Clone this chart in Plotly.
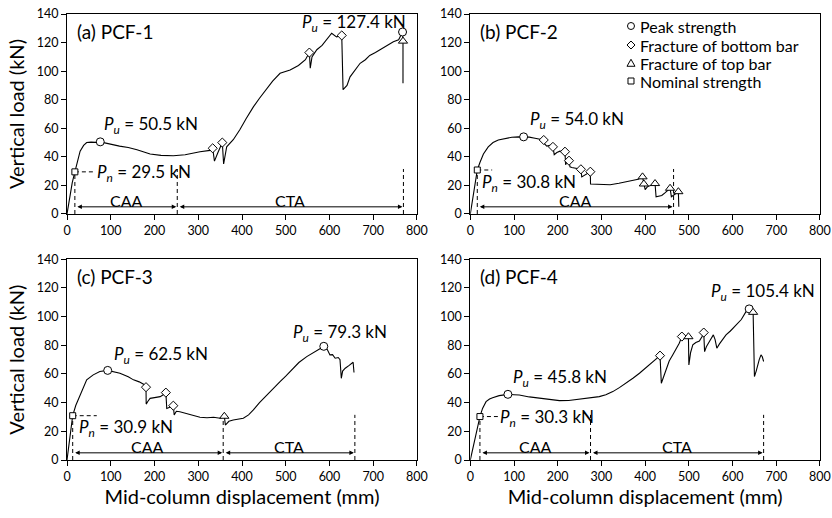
import plotly.graph_objects as go

FONT = "Lato"

# ---------------- data ----------------
# Panel (a) PCF-1
a_x = [0, 4, 8, 12, 18, 24, 30, 38, 45, 55, 65, 76, 95, 120, 140, 160, 190, 215, 243, 270, 304, 327, 333,
       337, 345, 355, 358, 365, 380, 395, 410, 426, 440, 456, 470, 487, 500, 510, 529, 545, 554, 556, 560,
       571, 583, 593, 605, 616, 628, 631, 640, 647, 660, 670, 682, 692, 705, 715, 730, 746, 758, 767, 768, 768]
a_y = [0, 8, 15, 22, 29.5, 38, 44, 48, 50, 50.3, 50.1, 50.5, 49, 47.5, 46.5, 45, 42, 41, 40.8, 41.5, 43.6, 44.5, 46,
       37, 43, 50, 35, 47, 52, 59, 67, 75, 81, 87, 93, 98.5, 100, 100.8, 104, 108, 113, 102, 110,
       115, 118, 122, 126.5, 124, 125, 87, 90, 96, 101, 105.5, 108, 111, 113, 115, 118, 120.6, 122, 127.4, 121, 91.5]
a_peak = ([76, 767], [50.5, 127.4])
a_bottom = ([333, 355, 554, 628], [46, 50, 113, 125])
a_top = ([768], [121])
a_nominal = ([18], [29.5])
a_bounds = [18, 252, 769]
a_stages = ["CAA", "CTA"]

# Panel (b) PCF-2
b_x = [0, 5, 10, 16, 22, 30, 41, 52, 64, 80, 95, 110, 122, 135, 148, 160, 168, 170, 175, 182, 189, 192, 198, 205,
       212, 216.6, 218, 222, 225.8, 228, 232, 240, 248, 253, 255, 262, 270, 274.6, 275, 285, 300, 320, 340, 361,
       375, 384, 394, 397, 400, 405, 412, 418, 422.6, 425, 432, 438, 446, 453, 457, 460, 468, 476, 477]
b_y = [0, 9, 19, 30.8, 36, 42, 47, 50, 51.8, 53, 53.7, 54, 54, 53.8, 53, 52.5, 51.8, 49, 47.5, 48, 47, 41.5, 43, 44,
       44, 43.6, 34.5, 37, 37.3, 33, 32.5, 32, 31.5, 31.3, 26, 27.5, 29, 29.6, 21, 21, 20.5, 20.5, 21.5, 22.6,
       23.5, 24.3, 26, 20.5, 17, 19, 20, 21, 21.3, 12, 12.5, 13, 15, 17, 18, 12.1, 14, 15.6, 5]
b_peak = ([122], [54.0])
b_bottom = ([168, 189, 216.6, 225.8, 253, 274.6], [51.8, 47, 43.6, 37.3, 31.3, 29.6])
b_top = ([394, 397, 422.6, 457, 476], [26, 21, 21.3, 18, 15.6])
b_nominal = ([16], [30.8])
b_bounds = [16, 465]
b_stages = ["CAA"]

# Panel (c) PCF-3
c_x = [0, 4, 8, 13, 20, 30, 45, 60, 75, 93, 110, 121, 140, 152, 165, 175, 180.6, 181, 185, 190, 200, 213, 220,
       226, 228, 235, 243, 245, 250, 258, 280, 304, 320, 335, 350, 359.6, 362, 370, 380, 392, 403, 415, 426,
       440, 457, 470, 487, 500, 517, 530, 548, 560, 571, 580, 587, 595, 601, 607, 613, 620, 624, 627, 630,
       636, 645, 654, 656]
c_y = [0, 10, 20, 30.9, 38, 45.4, 55.9, 59.4, 61.7, 62.5, 61.5, 60.5, 58, 55.9, 54.5, 52.9, 50.8, 39, 41, 43,
       43.5, 44.2, 45.5, 47, 36, 37, 37.9, 31.5, 34, 33.7, 32, 29.8, 29.5, 29.8, 29.1, 30.5, 24.4, 27, 27.9,
       28.5, 29.1, 31.5, 34.9, 40, 45.4, 50, 54.7, 58.5, 64, 68, 72.1, 74.5, 76.8, 78, 79.3, 77, 73.3, 73.5,
       71, 71.5, 70, 57, 62, 64, 66, 68.2, 61]
c_peak = ([93, 587], [62.5, 79.3])
c_bottom = ([180.6, 226, 243], [50.8, 47, 37.9])
c_top = ([359.6], [30.5])
c_nominal = ([13], [30.9])
c_bounds = [13, 357, 658]
c_stages = ["CAA", "CTA"]

# Panel (d) PCF-4
d_x = [0, 5, 10, 15, 22, 28, 36, 44, 51, 66, 75, 86, 100, 112, 135, 158, 180, 204, 225, 249, 270, 295, 310,
       326, 341, 356, 372, 387, 402, 417, 425, 434, 437, 442, 448, 455, 463, 470, 478, 484, 490, 499, 500,
       504, 509, 516, 524, 530, 534, 536, 540, 547, 552, 556, 560, 564, 570, 577, 585, 595, 608, 620, 631,
       638, 647, 650, 654, 657, 661, 665, 668, 671]
d_y = [0, 7, 14, 21, 30.3, 36, 40.7, 42.5, 43.5, 44.9, 45.5, 45.8, 45.5, 45.3, 44, 43, 42.2, 41.4, 41.5, 42.4,
       43, 44.2, 45.5, 47.7, 50.5, 53.5, 57, 60.5, 64.5, 68.7, 70.5, 72.8, 53.5, 58, 64, 69, 73.3, 77, 81.5,
       86.1, 85, 86, 66.3, 75, 80.3, 82, 83, 86, 88.9, 75.6, 79, 82.6, 85, 87.3, 84, 78, 81, 84, 87.3, 90,
       94.3, 98, 103.6, 105.4, 103, 58.2, 62, 66.3, 70, 73.3, 72, 68.7]
d_peak = ([86, 638], [45.8, 105.4])
d_bottom = ([434, 484, 534], [72.8, 86.1, 88.9])
d_top = ([499, 647], [86, 103])
d_nominal = ([22], [30.3])
d_bounds = [22, 275, 671]
d_stages = ["CAA", "CTA"]

panel_titles = ["(a) PCF-1", "(b) PCF-2", "(c) PCF-3", "(d) PCF-4"]
pu_labels = [["50.5", "127.4"], ["54.0"], ["62.5", "79.3"], ["45.8", "105.4"]]
pn_labels = ["29.5", "30.8", "30.9", "30.3"]
legend_names = ["Peak strength", "Fracture of bottom bar", "Fracture of top bar", "Nominal strength"]

x_ticks = [0, 100, 200, 300, 400, 500, 600, 700, 800]
y_ticks = [0, 20, 40, 60, 80, 100, 120, 140]

# ---------------- layout helpers (positions / styles) ----------------
panels = [
    dict(x=a_x, y=a_y, peak=a_peak, bottom=a_bottom, top=a_top, nom=a_nominal, bounds=a_bounds, stages=a_stages,
         xa="x", ya="y", pu_pos=[(81, 62.3), (533, 133.5)], pn_pos=(64, 28.5), pn_end=62),
    dict(x=b_x, y=b_y, peak=b_peak, bottom=b_bottom, top=b_top, nom=b_nominal, bounds=b_bounds, stages=b_stages,
         xa="x2", ya="y2", pu_pos=[(132, 65.8)], pn_pos=(22, 21.5), pn_end=50),
    dict(x=c_x, y=c_y, peak=c_peak, bottom=c_bottom, top=c_top, nom=c_nominal, bounds=c_bounds, stages=c_stages,
         xa="x3", ya="y3", pu_pos=[(102, 73.3), (513, 88.5)], pn_pos=(22, 22), pn_end=68),
    dict(x=d_x, y=d_y, peak=d_peak, bottom=d_bottom, top=d_top, nom=d_nominal, bounds=d_bounds, stages=d_stages,
         xa="x4", ya="y4", pu_pos=[(93, 57), (545, 117)], pn_pos=(63, 29.1), pn_end=63),
]

fig = go.Figure()
annotations = []
shapes = []
GUIDE_TOP = 31.5
ARROW_Y = 5
black = "black"

def mk(style):
    sym, size = style
    return dict(symbol=sym, size=size, color="white", line=dict(color=black, width=1))

marker_styles = {"peak": ("circle", 8), "bottom": ("diamond", 7), "top": ("triangle-up", 8), "nom": ("square", 6)}

for i, p in enumerate(panels):
    xa, ya = p["xa"], p["ya"]
    fig.add_trace(go.Scatter(x=p["x"], y=p["y"], mode="lines", line=dict(color=black, width=1.1),
                             xaxis=xa, yaxis=ya, showlegend=False, hoverinfo="skip"))
    nx, ny = p["nom"]
    fig.add_trace(go.Scatter(x=[nx[0], p["pn_end"]], y=[ny[0], ny[0]], mode="lines",
                             line=dict(color=black, width=1, dash="4px,3px"), xaxis=xa, yaxis=ya,
                             showlegend=False, hoverinfo="skip"))
    for j, bx in enumerate(p["bounds"]):
        top = ny[0] if j == 0 else GUIDE_TOP
        fig.add_trace(go.Scatter(x=[bx, bx], y=[0, top], mode="lines",
                                 line=dict(color=black, width=1, dash="4px,3px"), xaxis=xa, yaxis=ya,
                                 showlegend=False, hoverinfo="skip"))
    for key in ["peak", "bottom", "top", "nom"]:
        mx, my = p[key]
        fig.add_trace(go.Scatter(x=mx, y=my, mode="markers", marker=mk(marker_styles[key]),
                                 xaxis=xa, yaxis=ya, showlegend=False, hoverinfo="skip"))
    for j, st in enumerate(p["stages"]):
        x0, x1 = p["bounds"][j], p["bounds"][j + 1]
        annotations.append(dict(x=x1, y=ARROW_Y, ax=x0, ay=ARROW_Y, xref=xa, yref=ya, axref=xa, ayref=ya,
                                text="", showarrow=True, arrowhead=2, startarrowhead=2, arrowside="end+start",
                                arrowsize=0.9, startarrowsize=0.9, arrowwidth=1, arrowcolor=black,
                                standoff=1, startstandoff=1))
        annotations.append(dict(x=(x0 + x1) / 2, y=9.5, xref=xa, yref=ya, text=st, showarrow=False,
                                font=dict(family=FONT, size=16, color=black), yanchor="middle"))
    annotations.append(dict(x=18, y=128, xref=xa, yref=ya, text=panel_titles[i], showarrow=False,
                            xanchor="left", yanchor="middle", font=dict(family=FONT, size=19, color=black)))
    for lab, (lx, ly) in zip(pu_labels[i], p["pu_pos"]):
        annotations.append(dict(x=lx, y=ly, xref=xa, yref=ya, text=f"<i>P</i><sub><i>u</i></sub> = {lab} kN",
                                showarrow=False, xanchor="left", yanchor="middle",
                                font=dict(family=FONT, size=17, color=black)))
    lx, ly = p["pn_pos"]
    annotations.append(dict(x=lx, y=ly, xref=xa, yref=ya, text=f"<i>P</i><sub><i>n</i></sub> = {pn_labels[i]} kN",
                            showarrow=False, xanchor="left", yanchor="middle",
                            font=dict(family=FONT, size=17, color=black)))

# legend (drawn inside panel b)
leg_x_mark = 367.6
leg_x_text = 383.0
leg_rows = [131.6, 118.3, 105.5, 93.1]
r = 3.5
leg_paths = [
    None,
    f"M 0 {r+0.5} L {r+0.5} 0 L 0 {-(r+0.5)} L {-(r+0.5)} 0 Z",
    f"M 0 {r+0.5} L {r+0.5} {-(r-0.5)} L {-(r+0.5)} {-(r-0.5)} Z",
    None,
]
for k, (name, ly) in enumerate(zip(legend_names, leg_rows)):
    common = dict(xref="x2", yref="y2", xsizemode="pixel", ysizemode="pixel", xanchor=leg_x_mark, yanchor=ly,
                  line=dict(color=black, width=1), fillcolor="white")
    if k == 0:
        shapes.append(dict(type="circle", x0=-r, x1=r, y0=-r, y1=r, **common))
    elif k == 3:
        shapes.append(dict(type="rect", x0=-3, x1=3, y0=-3, y1=3, **common))
    else:
        shapes.append(dict(type="path", path=leg_paths[k], **common))
    annotations.append(dict(x=leg_x_text, y=ly, xref="x2", yref="y2", text=name, showarrow=False,
                            xanchor="left", yanchor="middle", font=dict(family=FONT, size=16, color=black)))

axis_common = dict(showline=True, linecolor=black, linewidth=1, mirror=True, ticks="outside", ticklen=5,
                   tickcolor=black, tickwidth=1, showgrid=False, zeroline=False, automargin=False,
                   tickfont=dict(family=FONT, size=12.5, color=black))
xcommon = dict(range=[0, 800], tickvals=x_ticks, **axis_common)
ycommon = dict(range=[0, 140], tickvals=y_ticks, **axis_common)
xtitle = dict(text="Mid-column displacement (mm)", font=dict(family=FONT, size=20, color=black), standoff=4)
ytitle = dict(text="Vertical load (kN)", font=dict(family=FONT, size=20, color=black), standoff=6)

dxa = [0, 0.4648]
dxb = [0.5356, 1]
dyt = [0.5516, 1]
dyb = [0, 0.45]

fig.update_layout(
    template="none",
    width=832, height=518,
    margin=dict(l=67, r=12, t=14, b=58, autoexpand=False),
    paper_bgcolor="white", plot_bgcolor="white",
    showlegend=False,
    xaxis=dict(domain=dxa, anchor="y", **xcommon),
    yaxis=dict(domain=dyt, anchor="x", title=ytitle, **ycommon),
    xaxis2=dict(domain=dxb, anchor="y2", **xcommon),
    yaxis2=dict(domain=dyt, anchor="x2", **ycommon),
    xaxis3=dict(domain=dxa, anchor="y3", title=xtitle, **xcommon),
    yaxis3=dict(domain=dyb, anchor="x3", title=ytitle, **ycommon),
    xaxis4=dict(domain=dxb, anchor="y4", title=xtitle, **xcommon),
    yaxis4=dict(domain=dyb, anchor="x4", **ycommon),
    annotations=annotations,
    shapes=shapes,
)

# let the figure fill the window exactly (no default 8 px page margin), no mode bar
fig.write_html("out.html", config={"displayModeBar": False},
               post_script="document.body.style.margin='0';")
